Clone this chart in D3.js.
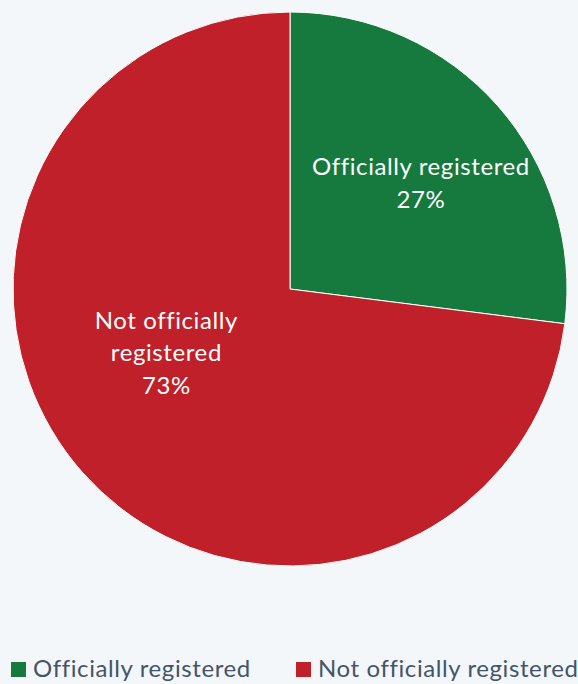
<!DOCTYPE html>
<html>
<head>
<meta charset="utf-8">
<script src="https://cdn.jsdelivr.net/npm/d3@7"></script>
<style>
  html, body { margin: 0; padding: 0; background: #f3f7f9; }
  svg { display: block; }
</style>
</head>
<body>
<svg id="chart" width="578" height="684"></svg>
<script>
// Registration status shares (percent)
const categories = ["Officially registered", "Not officially registered"];
const shares = [27, 73];
const labelLines = [["Officially registered", "27%"], ["Not officially", "registered", "73%"]];
const colors = ["#167a3e", "#c0202a"];

const svg = d3.select("#chart");
const W = 578, H = 684;
const cx = 290, cy = 289, R = 277;
const font = "Lato, 'Open Sans', sans-serif";
const fontSize = 24;
const tracking = 0.6;

svg.append("rect").attr("width", W).attr("height", H).attr("fill", "#f3f7f9");

const pie = d3.pie().sort(null).value(d => d)(shares);
const arc = d3.arc().innerRadius(0).outerRadius(R);

const g = svg.append("g").attr("transform", `translate(${cx},${cy})`);

g.selectAll("path.slice")
  .data(pie)
  .join("path")
  .attr("class", "slice")
  .attr("d", arc)
  .attr("fill", (d, i) => colors[i])
  .attr("stroke", "#ffffff")
  .attr("stroke-width", 1);

// Data labels: placed at a fraction of the radius, with a small angular nudge
const labelRadius = [0.606, 0.504];
const labelNudge = [2.5, 14];   // degrees, clockwise from the slice bisector
const lineH = 32.5;
pie.forEach((d, i) => {
  const mid = (d.startAngle + d.endAngle) / 2 + labelNudge[i] * Math.PI / 180;
  const r = R * labelRadius[i];
  const lx = Math.sin(mid) * r;
  const ly = -Math.cos(mid) * r;
  const lines = labelLines[i];
  const t = g.append("text")
    .attr("text-anchor", "middle")
    .attr("fill", "#ffffff")
    .attr("font-family", font)
    .attr("font-size", fontSize)
    .attr("letter-spacing", tracking);
  lines.forEach((s, k) => {
    t.append("tspan")
      .attr("x", lx + tracking / 2)
      .attr("y", ly + (k - (lines.length - 1) / 2) * lineH + 8)
      .text(s);
  });
});

// Legend
const legendX = [11, 296];
const legend = svg.append("g");
categories.forEach((c, i) => {
  legend.append("rect")
    .attr("x", legendX[i]).attr("y", 662)
    .attr("width", 15).attr("height", 15)
    .attr("fill", colors[i]);
  legend.append("text")
    .attr("x", legendX[i] + 22).attr("y", 677)
    .attr("fill", "#44546a")
    .attr("font-family", font)
    .attr("font-size", fontSize)
    .attr("letter-spacing", tracking)
    .text(c);
});
</script>
</body>
</html>
